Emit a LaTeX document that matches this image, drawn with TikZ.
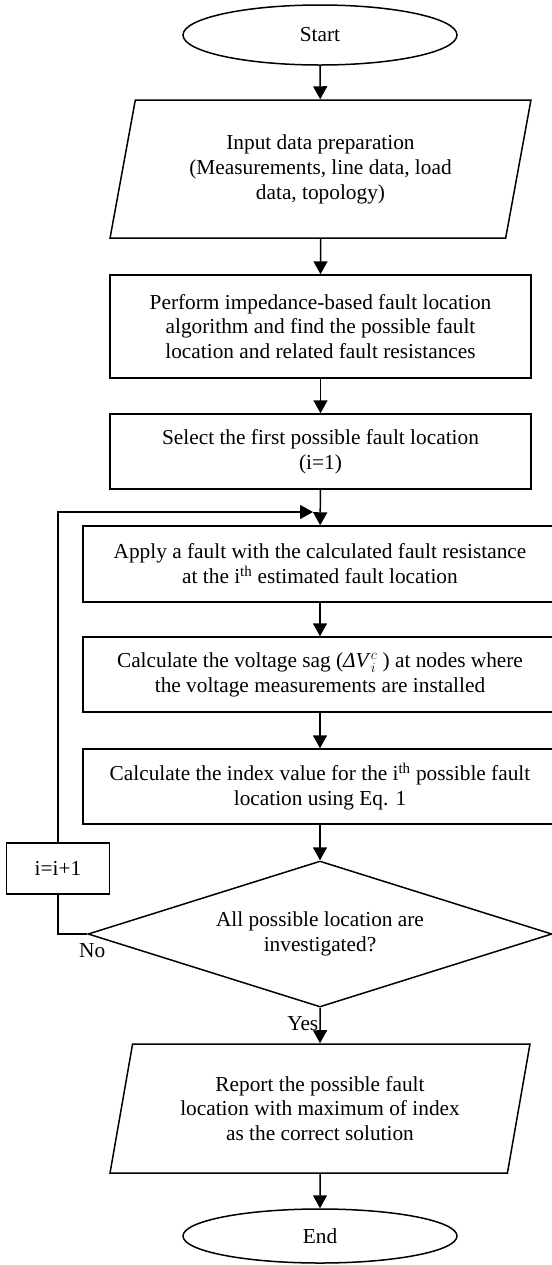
\documentclass[tikz,border=0pt]{standalone}
\usepackage{fontspec}
\setmainfont{Liberation Serif}
\usepackage{tikz}
\usetikzlibrary{arrows.meta,shapes}

\begin{document}
\begin{tikzpicture}[x=1bp,y=-1bp,
  font=\fontsize{21.4}{25}\selectfont,
  line width=1.5bp,
  flow/.style={-{Triangle[length=13bp,width=14bp]}},
  terminal/.style={draw,ellipse,minimum width=274bp,inner sep=0pt},
  process/.style={draw,rectangle,align=center,inner sep=0pt,minimum height=75bp},
  inout/.style={draw,trapezium,trapezium left angle=75.5,trapezium right angle=104.5,
    trapezium stretches=true,align=center,inner sep=0pt,minimum width=421bp},
  decision/.style={draw,diamond,aspect=3.18,align=center,inner sep=0pt},
  tag/.style={inner sep=1bp}]
\useasboundingbox (0,0) rectangle (552,1265);
%
\node[terminal,minimum height=60bp] (start) at (320,35) {Start};
\node[inout,minimum height=138bp] (input) at (320.5,169)
  {Input data preparation\\(Measurements, line data, load\\data, topology)};
\node[process,minimum width=421bp,minimum height=103bp] (impedance) at (320.5,326.5)
  {Perform impedance-based fault location\\algorithm and find the possible fault\\location and related fault resistances};
\node[process,minimum width=421bp] (first) at (320.5,451.5)
  {Select the first possible fault location\\(i=1)};
\node[process,minimum width=474bp,minimum height=76bp] (apply) at (320,564)
  {Apply a fault with the calculated fault resistance\\at the i\textsuperscript{th} estimated fault location};
\node[process,minimum width=474bp] (sag) at (320,674.5)
  {Calculate the voltage sag (\textit{ΔV}$_{i}^{c}$ ) at nodes where\\the voltage measurements are installed};
\node[process,minimum width=474bp] (index) at (320,786.5)
  {Calculate the index value for the i\textsuperscript{th} possible fault\\location using Eq. 1};
\node[decision,minimum width=464bp,minimum height=146bp] (check) at (320,934)
  {All possible location are\\investigated?};
\node[process,minimum width=103bp,minimum height=51bp] (next) at (58,868.5) {i=i+1};
\node[inout,minimum height=129bp] (report) at (320,1108.5)
  {Report the possible fault\\location with maximum of index\\as the correct solution};
\node[terminal,minimum height=54bp] (end) at (320,1236) {End};
%
\coordinate (merge) at (313,512);
\draw[flow] (start) -- (input);
\draw[flow] (input) -- (impedance);
\draw[flow] (impedance) -- (first);
\draw[flow] (first) -- (apply);
\draw[flow] (apply) -- (sag);
\draw[flow] (sag) -- (index);
\draw[flow] (index) -- (check);
\draw[flow] (check) -- node[tag,left,pos=0.45] (yes) {Yes} (report);
\draw[flow] (report) -- (end);
\draw (check.west) -| (next.south);
\draw[flow] (next.north) |- (merge);
\node[tag,anchor=north] (no) at ([xshift=5bp,yshift=-8bp]check.west) {No};
%
\end{tikzpicture}
\end{document}
